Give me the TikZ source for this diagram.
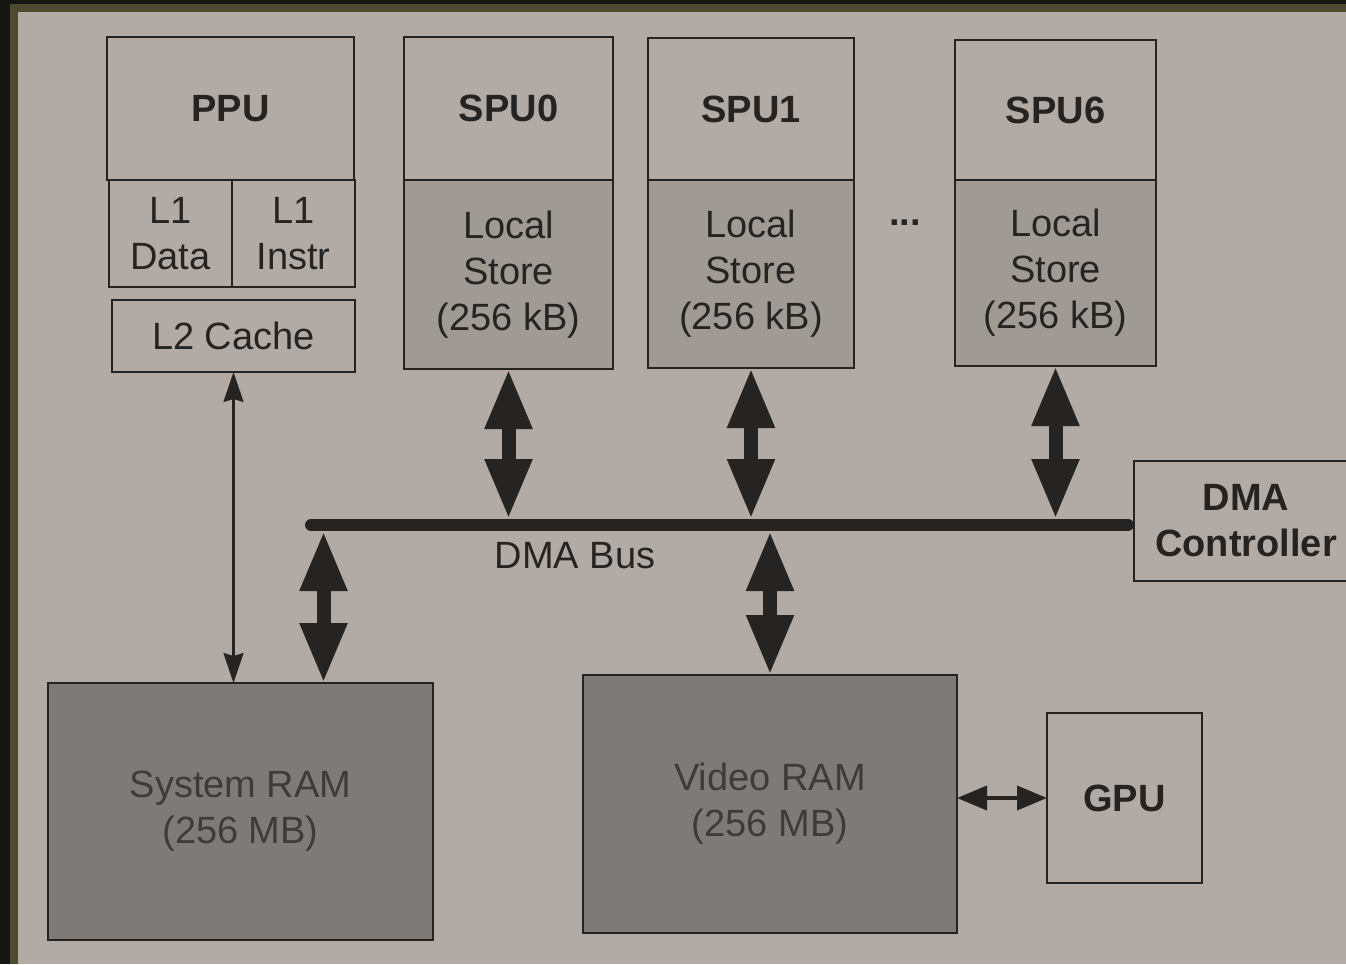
\documentclass[tikz,border=0pt]{standalone}
\usepackage{fontspec}
\setmainfont{Liberation Sans}
\usetikzlibrary{arrows.meta, calc}
\definecolor{paper}{RGB}{178,171,165}
\definecolor{storegray}{RGB}{160,154,149}
\definecolor{ramgray}{RGB}{126,122,119}
\definecolor{ink}{RGB}{38,36,34}
\definecolor{ramink}{RGB}{62,60,58}
\definecolor{frameolive}{RGB}{78,74,50}
\definecolor{framedark}{RGB}{22,22,20}

\begin{document}
\begin{tikzpicture}[
        x=1pt, y=-1pt,
        box/.style={rectangle, draw=ink, line width=1.6pt, inner sep=0pt, outer sep=0pt, align=center, text=ink, font=\fontsize{38}{46}\selectfont},
        bold/.style={font=\fontsize{38}{46}\selectfont\bfseries},
        bigarrow/.style={{Triangle[length=60pt,width=44pt]}-{Triangle[length=60pt,width=44pt]}, line width=14pt, draw=ink},
        midarrow/.style={{Triangle[length=30pt,width=24pt]}-{Triangle[length=30pt,width=24pt]}, line width=4pt, draw=ink},
        thinarrow/.style={{Stealth[length=30pt,width=20pt,inset=3pt]}-{Stealth[length=30pt,width=20pt,inset=3pt]}, line width=2.2pt, draw=ink}
    ]
        % page and photo frame
        \useasboundingbox (0,0) rectangle (1346,964);
        \fill[framedark] (0,0) rectangle (1346,964);
        \fill[frameolive] (10,4) rectangle (1346,964);
        \fill[paper] (18,12) rectangle (1346,964);

        % PPU with caches
        \node[box, bold, minimum width=247pt, minimum height=143pt] (ppu) at (230.5,108.5) {PPU};
        \node[box, minimum width=123pt, minimum height=107pt] (l1d) at (170.5,233.5) {L1\\Data};
        \node[box, minimum width=123pt, minimum height=107pt] (l1i) at (293.5,233.5) {L1\\Instr};
        \node[box, minimum width=243pt, minimum height=72pt] (l2) at (233.5,336) {L2 Cache};

        % SPUs
        \node[box, bold, minimum width=209pt, minimum height=143pt] (spu0) at (508.5,108.5) {SPU0};
        \node[box, fill=storegray, minimum width=209pt, minimum height=189pt] (ls0) at (508.5,274.5) {Local\\Store\\(256 kB)};
        \node[box, bold, minimum width=206pt, minimum height=142pt] (spu1) at (751,109) {SPU1};
        \node[box, fill=storegray, minimum width=206pt, minimum height=188pt] (ls1) at (751,274) {Local\\Store\\(256 kB)};
        \node[bold, text=ink] (dots) at (905,223) {...};
        \node[box, bold, minimum width=201pt, minimum height=140pt] (spu6) at (1055.5,110) {SPU6};
        \node[box, fill=storegray, minimum width=201pt, minimum height=186pt] (ls6) at (1055.5,273) {Local\\Store\\(256 kB)};

        % DMA
        \node[box, bold, minimum width=224pt, minimum height=120pt] (dma) at (1246,521) {DMA\\Controller};
        \coordinate (busL) at (311,525);
        \draw[ink, line width=12pt, line cap=round, shorten >=6pt] (busL) -- (busL -| dma.west);
        \node[box, draw=none] (buslabel) at (575,556) {DMA Bus};

        % memories
        \node[box, fill=ramgray, text=ramink, minimum width=385pt, minimum height=257pt] (sysram) at (240.5,811.5) {System RAM\\(256 MB)};
        \node[box, fill=ramgray, text=ramink, minimum width=374pt, minimum height=258pt] (vram) at (770,804) {Video RAM\\(256 MB)};
        \node[box, bold, minimum width=155pt, minimum height=170pt] (gpu) at (1124.5,798) {GPU};
        \coordinate (sysin) at ([xshift=83pt]sysram.north);

        % connections
        \draw[bigarrow, shorten >=6pt] (ls0.south) -- (ls0.south |- busL);
        \draw[bigarrow, shorten >=6pt] (ls1.south) -- (ls1.south |- busL);
        \draw[bigarrow, shorten >=6pt] (ls6.south) -- (ls6.south |- busL);
        \draw[bigarrow, shorten <=6pt] (sysin |- busL) -- (sysin);
        \draw[bigarrow, shorten <=6pt] (vram.north |- busL) -- (vram.north);
        \draw[thinarrow] (l2.south) -- (l2.south |- sysram.north);
        \draw[midarrow] (gpu.west -| vram.east) -- (gpu.west);

    \end{tikzpicture}
\end{document}
